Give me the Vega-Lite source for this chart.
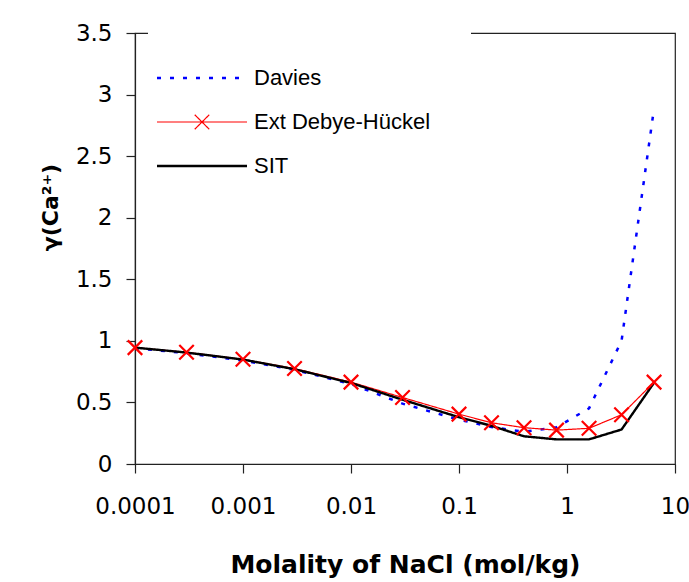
{
  "$schema": "https://vega.github.io/schema/vega-lite/v6.json",
  "width": 540,
  "height": 431,
  "autosize": {"type": "none"},
  "padding": {"left": 135, "top": 33, "right": 14, "bottom": 118},
  "background": "white",
  "config": {
    "view": {"stroke": "#222222", "strokeWidth": 1.2},
    "axis": {
      "grid": false,
      "labelFont": "DejaVu Sans",
      "labelFontSize": 23,
      "labelColor": "black",
      "tickColor": "#222222",
      "domainColor": "#222222",
      "tickWidth": 1.2,
      "domainWidth": 1.2,
      "tickSize": 9,
      "titleFont": "DejaVu Sans",
      "titleFontWeight": "bold",
      "titleColor": "black"
    }
  },
  "data": {
    "values": [
      {"x": 0.0001, "y": 0.94, "series": "Davies"},
      {"x": 0.0003, "y": 0.9, "series": "Davies"},
      {"x": 0.001, "y": 0.84, "series": "Davies"},
      {"x": 0.003, "y": 0.765, "series": "Davies"},
      {"x": 0.01, "y": 0.65, "series": "Davies"},
      {"x": 0.03, "y": 0.49, "series": "Davies"},
      {"x": 0.1, "y": 0.36, "series": "Davies"},
      {"x": 0.2, "y": 0.3, "series": "Davies"},
      {"x": 0.4, "y": 0.262, "series": "Davies"},
      {"x": 0.8, "y": 0.298, "series": "Davies"},
      {"x": 1.6, "y": 0.452, "series": "Davies"},
      {"x": 3.2, "y": 1.0, "series": "Davies"},
      {"x": 6.4, "y": 2.89, "series": "Davies"},
      {"x": 0.0001, "y": 0.945, "series": "Ext Debye-Hückel"},
      {"x": 0.0003, "y": 0.907, "series": "Ext Debye-Hückel"},
      {"x": 0.001, "y": 0.85, "series": "Ext Debye-Hückel"},
      {"x": 0.003, "y": 0.775, "series": "Ext Debye-Hückel"},
      {"x": 0.01, "y": 0.665, "series": "Ext Debye-Hückel"},
      {"x": 0.03, "y": 0.54, "series": "Ext Debye-Hückel"},
      {"x": 0.1, "y": 0.405, "series": "Ext Debye-Hückel"},
      {"x": 0.2, "y": 0.335, "series": "Ext Debye-Hückel"},
      {"x": 0.4, "y": 0.295, "series": "Ext Debye-Hückel"},
      {"x": 0.8, "y": 0.275, "series": "Ext Debye-Hückel"},
      {"x": 1.6, "y": 0.29, "series": "Ext Debye-Hückel"},
      {"x": 3.2, "y": 0.4, "series": "Ext Debye-Hückel"},
      {"x": 6.4, "y": 0.665, "series": "Ext Debye-Hückel"},
      {"x": 0.0001, "y": 0.945, "series": "SIT"},
      {"x": 0.0003, "y": 0.905, "series": "SIT"},
      {"x": 0.001, "y": 0.848, "series": "SIT"},
      {"x": 0.003, "y": 0.77, "series": "SIT"},
      {"x": 0.01, "y": 0.658, "series": "SIT"},
      {"x": 0.03, "y": 0.522, "series": "SIT"},
      {"x": 0.1, "y": 0.38, "series": "SIT"},
      {"x": 0.2, "y": 0.31, "series": "SIT"},
      {"x": 0.4, "y": 0.225, "series": "SIT"},
      {"x": 0.8, "y": 0.2, "series": "SIT"},
      {"x": 1.6, "y": 0.2, "series": "SIT"},
      {"x": 3.2, "y": 0.28, "series": "SIT"},
      {"x": 6.4, "y": 0.66, "series": "SIT"}
    ]
  },
  "encoding": {
    "x": {
      "field": "x",
      "type": "quantitative",
      "scale": {"type": "log", "domain": [0.0001, 10], "nice": false},
      "axis": {
        "values": [0.0001, 0.001, 0.01, 0.1, 1, 10],
        "format": "~g",
        "labelFlush": false,
        "labelOverlap": false,
        "labelPadding": 22,
        "title": "Molality of NaCl (mol/kg)",
        "titleFontSize": 25,
        "titlePadding": 34
      }
    },
    "y": {
      "field": "y",
      "type": "quantitative",
      "scale": {"domain": [0, 3.5], "nice": false},
      "axis": {
        "values": [0, 0.5, 1, 1.5, 2, 2.5, 3, 3.5],
        "format": ".1~f",
        "labelPadding": 14,
        "title": "γ(Ca²⁺)",
        "titleFontSize": 22,
        "titleX": -85,
        "titleY": 174,
        "titleAngle": -90,
        "titleAlign": "center",
        "titleBaseline": "middle"
      }
    }
  },
  "layer": [
    {
      "mark": {"type": "line", "clip": false},
      "encoding": {
        "color": {
          "field": "series",
          "type": "nominal",
          "scale": {"domain": ["Davies", "Ext Debye-Hückel", "SIT"], "range": ["#0000FF", "#FF0000", "#000000"]},
          "legend": {
            "orient": "none",
            "legendX": 13,
            "legendY": -6,
            "title": null,
            "padding": 40,
            "fillColor": "white",
            "symbolSize": 100,
            "symbolOffset": 3,
            "labelOffset": 41,
            "labelFont": "Liberation Sans",
            "labelFontSize": 22,
            "labelColor": "black",
            "labelLimit": 0,
            "rowPadding": 22,
            "encode": {
              "symbols": {
                "update": {
                  "shape": {"signal": "datum.value === 'Ext Debye-Hückel' ? 'M-9,0H9M-1.45,-1.45L1.45,1.45M-1.45,1.45L1.45,-1.45' : 'M-9,0H9'"}
                }
              }
            }
          }
        },
        "strokeDash": {
          "field": "series",
          "type": "nominal",
          "scale": {"domain": ["Davies", "Ext Debye-Hückel", "SIT"], "range": [[4, 9], [1, 0], [1, 0]]}
        },
        "strokeWidth": {
          "field": "series",
          "type": "nominal",
          "scale": {"type": "ordinal", "domain": ["Davies", "Ext Debye-Hückel", "SIT"], "range": [2.5, 1.2, 2.4]}
        }
      }
    },
    {
      "transform": [{"filter": "datum.series === 'Ext Debye-Hückel'"}],
      "mark": {
        "type": "point",
        "shape": "M-1,-1L1,1M-1,1L1,-1",
        "filled": false,
        "stroke": "#FF0000",
        "strokeWidth": 2.2,
        "size": 210,
        "opacity": 1,
        "clip": false
      }
    }
  ]
}
